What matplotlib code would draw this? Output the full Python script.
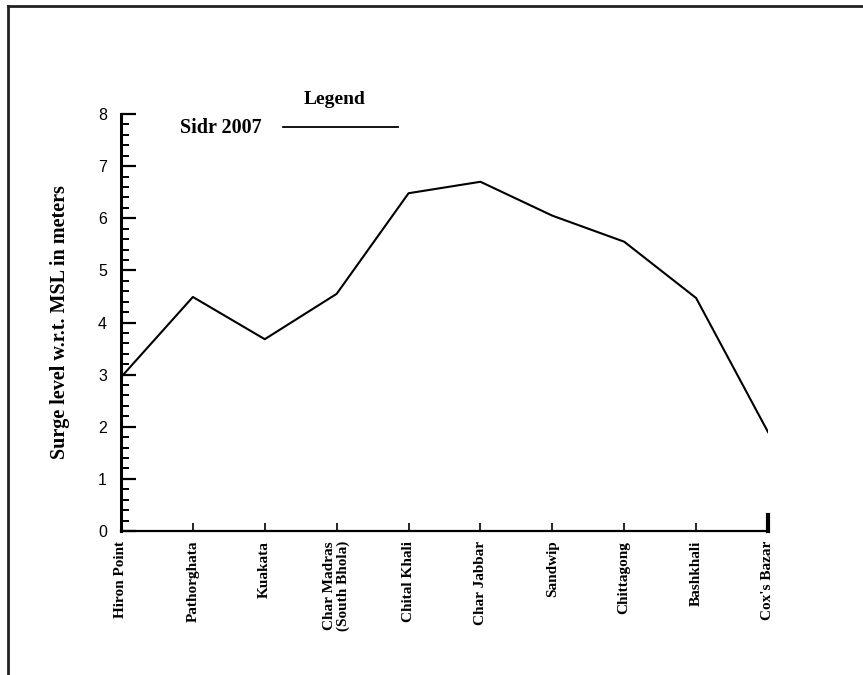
import numpy as np
import matplotlib.pyplot as plt
from matplotlib.lines import Line2D
from matplotlib.ticker import MultipleLocator

# surge levels along the coast during cyclone Sidr
stations = ['Hiron Point', 'Pathorghata', 'Kuakata', 'Char Madras\n(South Bhola)',
            'Chital Khali', 'Char Jabbar', 'Sandwip', 'Chittagong',
            'Bashkhali', "Cox's Bazar"]
sidr_2007 = [2.95, 4.49, 3.68, 4.55, 6.48, 6.70, 6.05, 5.55, 4.47, 1.90]

fig = plt.figure(figsize=(8.63, 6.75), dpi=100)
ax = fig.add_axes([0.1402, 0.2133, 0.7497, 0.6178])

x = np.arange(len(stations))
ax.plot(x, sidr_2007, color='black', lw=1.5)

ax.set_xlim(0, len(stations) - 1)
ax.set_ylim(0, 8)

ax.spines['top'].set_visible(False)
ax.spines['left'].set_linewidth(2.2)
ax.spines['bottom'].set_linewidth(1.6)
ax.spines['right'].set_linewidth(3)
ax.spines['right'].set_bounds(0, 0.3)

ax.yaxis.set_major_locator(MultipleLocator(1))
ax.yaxis.set_minor_locator(MultipleLocator(0.2))
ax.tick_params(axis='y', which='major', direction='in', length=11, width=1.6,
               labelsize=11.5, pad=10, right=False)
ax.tick_params(axis='y', which='minor', direction='in', length=6, width=1.4, right=False)
ax.tick_params(axis='x', direction='in', length=6, width=1.2, pad=7)
for lab in ax.get_yticklabels():
    lab.set_fontfamily('Liberation Sans')

ax.set_xticks(x)
ax.set_xticklabels(stations, rotation=90, va='top', ha='center',
                   fontsize=11, fontweight='bold', family='Liberation Serif',
                   linespacing=1.0)

ax.set_ylabel('Surge level w.r.t. MSL in meters', fontsize=14.5, fontweight='bold',
              family='Liberation Serif', ha='center', va='center')
ax.yaxis.set_label_coords(-0.094, 0.5)

# legend drawn by hand like the original
fig.text(335 / 863, 1 - 100 / 675, 'Legend', ha='center', va='center',
         fontsize=14, fontweight='bold', family='Liberation Serif')
fig.text(180 / 863, 1 - 128 / 675, 'Sidr 2007', ha='left', va='center',
         fontsize=14.5, fontweight='bold', family='Liberation Serif')
fig.add_artist(Line2D([283 / 863, 398 / 863], [1 - 127 / 675, 1 - 127 / 675],
                      color='black', lw=1.3))

# page frame
fig.add_artist(Line2D([8 / 863, 1], [1 - 6 / 675, 1 - 6 / 675], color='#222222', lw=2))
fig.add_artist(Line2D([8 / 863, 8 / 863], [0, 1 - 6 / 675], color='#222222', lw=2))

fig.savefig('out.png', dpi=100)
